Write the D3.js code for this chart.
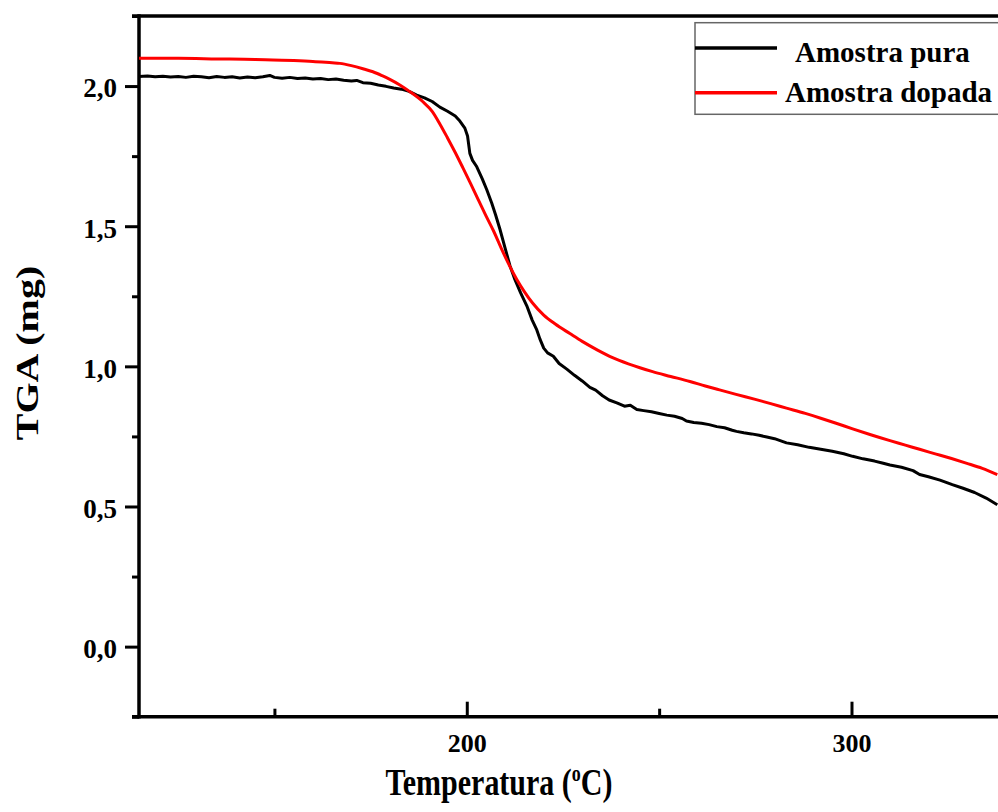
<!DOCTYPE html>
<html>
<head>
<meta charset="utf-8">
<script src="https://cdn.jsdelivr.net/npm/d3@7"></script>
<style>
  html, body { margin: 0; padding: 0; background: #fff; }
  svg { display: block; font-family: "Liberation Serif", "Times New Roman", serif; font-weight: bold; }
</style>
</head>
<body>
<svg id="tgaChart"></svg>
<script>
// TGA curves, temperature (ºC) vs mass (mg)
const pureTemp = [114.8, 117, 119, 121, 123, 125, 127, 129, 131, 133, 135, 137, 139, 141, 143, 145, 147, 148.8, 150,
  152, 154, 156, 158, 160, 162, 164, 166, 168, 170, 171.4, 173, 175, 177, 179, 181, 183, 185, 187, 189, 191, 193,
  195, 197, 198.2, 199.5, 200.2, 200.8, 201.5, 202.6, 204, 205.2, 206.5, 207.5, 208.6, 210, 211.2, 212.5, 214,
  215.6, 217, 218.2, 219, 220, 221, 222.5, 224, 226, 228, 230, 232, 233.5, 235.3, 237, 239, 241, 242.5, 244.2,
  246, 248, 250, 252, 254, 256, 257.1, 259, 261, 263, 265, 267, 269, 270.1, 272, 274, 276, 278, 280, 283.1,
  286, 289, 292, 295, 298, 300.3, 303, 306, 308, 310, 313, 316, 317.7, 320, 323, 326.2, 329, 332, 335, 337.9];
const pureMass = [2.034, 2.036, 2.033, 2.035, 2.032, 2.034, 2.031, 2.035, 2.033, 2.030, 2.034, 2.031, 2.033, 2.029,
  2.032, 2.030, 2.033, 2.038, 2.031, 2.028, 2.031, 2.027, 2.029, 2.025, 2.027, 2.023, 2.025, 2.021, 2.018, 2.020,
  2.012, 2.010, 2.004, 1.999, 1.993, 1.989, 1.981, 1.968, 1.958, 1.945, 1.925, 1.910, 1.893, 1.875, 1.850, 1.822,
  1.760, 1.735, 1.712, 1.670, 1.630, 1.582, 1.540, 1.490, 1.420, 1.360, 1.310, 1.262, 1.216, 1.165, 1.130, 1.098,
  1.065, 1.048, 1.036, 1.010, 0.990, 0.968, 0.948, 0.925, 0.915, 0.895, 0.880, 0.870, 0.858, 0.861, 0.846,
  0.842, 0.838, 0.832, 0.826, 0.822, 0.814, 0.805, 0.800, 0.797, 0.792, 0.785, 0.781, 0.772, 0.768, 0.763,
  0.759, 0.754, 0.748, 0.742, 0.727, 0.720, 0.711, 0.704, 0.697, 0.688, 0.679, 0.670, 0.662, 0.655, 0.648,
  0.640, 0.628, 0.614, 0.606, 0.594, 0.578, 0.565, 0.550, 0.530, 0.506];

const dopedTemp = [114.8, 125, 135, 145, 149.6, 155, 160, 165, 167, 170, 173, 175.6, 178, 180, 182.6, 185, 188.6,
  191, 193, 195, 197, 199, 201, 203, 205, 207, 209, 211, 213, 215, 217.1, 220, 223, 226.8, 230, 234, 237.9,
  242, 245, 248.3, 253, 258, 262, 265.7, 270, 275, 279, 283.1, 288, 292, 296, 300.3, 305, 310, 314, 317.7, 322,
  326, 330, 334, 337.9];
const dopedMass = [2.099, 2.099, 2.097, 2.095, 2.093, 2.091, 2.088, 2.083, 2.081, 2.073, 2.062, 2.051, 2.037, 2.024,
  2.004, 1.982, 1.944, 1.910, 1.865, 1.815, 1.763, 1.708, 1.652, 1.594, 1.537, 1.482, 1.420, 1.362, 1.310, 1.266,
  1.226, 1.183, 1.151, 1.117, 1.089, 1.058, 1.031, 1.009, 0.995, 0.981, 0.964, 0.946, 0.930, 0.916, 0.900,
  0.882, 0.867, 0.851, 0.832, 0.815, 0.797, 0.777, 0.756, 0.735, 0.719, 0.704, 0.687, 0.671, 0.654, 0.636, 0.614];

const xMajorTicks = [200, 300];
const xMinorTicks = [150, 250];
const yMajorTicks = [0, 0.5, 1.0, 1.5, 2.0];
const yMinorTicks = [-0.25, 0.25, 0.75, 1.25, 1.75, 2.25];
const seriesNames = ["Amostra pura", "Amostra dopada"];
const seriesColors = ["#000000", "#ff0000"];

function styleTickText(sel, size) {
  sel.style("font-family", "'Liberation Serif', 'Times New Roman', serif")
    .style("font-weight", "bold").style("font-size", size + "px").style("fill", "#000");
}

function drawTgaChart() {
  const svg = d3.select("#tgaChart").attr("width", 998).attr("height", 812);
  const x = d3.scaleLinear().domain([114.8, 341.2]).range([139, 1010]);
  const y = d3.scaleLinear().domain([-0.25, 2.25]).range([716.7, 16]);
  const [x0, x1] = x.range();
  const [yB, yT] = y.range();
  const axisW = 3.5;

  svg.append("clipPath").attr("id", "plotClip")
    .append("rect").attr("x", x0).attr("y", yT).attr("width", x1 - x0).attr("height", yB - yT);

  // y axis: outward ticks, decimal comma
  svg.append("g").attr("transform", `translate(${x0},0)`)
    .call(d3.axisLeft(y).tickValues(yMinorTicks).tickSize(7).tickFormat(""))
    .call(g => g.select(".domain").remove())
    .call(g => g.selectAll("line").attr("stroke-width", 3));
  svg.append("g").attr("transform", `translate(${x0},0)`)
    .call(d3.axisLeft(y).tickValues(yMajorTicks).tickSize(14).tickPadding(8)
      .tickFormat(d => d3.format(".1f")(d).replace(".", ",")))
    .call(g => g.select(".domain").remove())
    .call(g => g.selectAll("line").attr("stroke-width", 3))
    .call(g => styleTickText(g.selectAll("text").attr("dy", "0.4em"), 27));

  // x axis: inward ticks
  svg.append("g").attr("transform", `translate(0,${yB})`)
    .call(d3.axisBottom(x).tickValues(xMinorTicks).tickSize(-8).tickFormat(""))
    .call(g => g.select(".domain").remove())
    .call(g => g.selectAll("line").attr("stroke-width", 3));
  svg.append("g").attr("transform", `translate(0,${yB})`)
    .call(d3.axisBottom(x).tickValues(xMajorTicks).tickSize(-15).tickPadding(17).tickFormat(d3.format("d")))
    .call(g => g.select(".domain").remove())
    .call(g => g.selectAll("line").attr("stroke-width", 3))
    .call(g => styleTickText(g.selectAll("text"), 26));

  // frame (right side runs off the picture)
  const frame = svg.append("g").attr("stroke", "#000").attr("stroke-width", axisW);
  frame.append("line").attr("x1", x0 - 7).attr("x2", x1).attr("y1", yT).attr("y2", yT);
  frame.append("line").attr("x1", x0 - 7).attr("x2", x1).attr("y1", yB).attr("y2", yB);
  frame.append("line").attr("x1", x0).attr("x2", x0).attr("y1", yT - axisW / 2).attr("y2", yB + axisW / 2);

  // curves
  const line = d3.line().x(d => x(d[0])).y(d => y(d[1]));
  const series = [
    { name: seriesNames[0], color: seriesColors[0], pts: pureTemp.map((t, i) => [t, pureMass[i]]), curve: d3.curveLinear },
    { name: seriesNames[1], color: seriesColors[1], pts: dopedTemp.map((t, i) => [t, dopedMass[i]]), curve: d3.curveMonotoneX }
  ];
  const plot = svg.append("g").attr("clip-path", "url(#plotClip)");
  plot.selectAll("path.tga-line").data(series).join("path")
    .attr("class", "tga-line")
    .attr("fill", "none")
    .attr("stroke", d => d.color)
    .attr("stroke-width", 3)
    .attr("stroke-linejoin", "round")
    .attr("d", d => line.curve(d.curve)(d.pts));

  // legend
  const legend = svg.append("g");
  legend.append("rect").attr("x", 695).attr("y", 22.7).attr("width", 330).attr("height", 91.6)
    .attr("fill", "#fff").attr("stroke", "#666").attr("stroke-width", 1.5);
  const rows = [{ ly: 48, ty: 61.5, tx: 795 }, { ly: 92.7, ty: 101.5, tx: 785 }];
  series.forEach((s, i) => {
    legend.append("line").attr("x1", 695).attr("x2", 777).attr("y1", rows[i].ly).attr("y2", rows[i].ly)
      .attr("stroke", s.color).attr("stroke-width", 3.5);
    legend.append("text").attr("x", rows[i].tx).attr("y", rows[i].ty).attr("font-size", 29).text(s.name);
  });

  // axis titles
  const xt = svg.append("text").attr("transform", "translate(499,795) scale(1,1.25)")
    .attr("text-anchor", "middle").attr("font-size", 30);
  xt.append("tspan").text("Temperatura (");
  xt.append("tspan").attr("font-size", 18).attr("dy", -11).text("o");
  xt.append("tspan").attr("dy", 11).text("C)");

  svg.append("text").attr("transform", "translate(37.5,353) scale(1,1.25) rotate(-90)")
    .attr("text-anchor", "middle").attr("font-size", 32).text("TGA (mg)");
}

drawTgaChart();
</script>
</body>
</html>
